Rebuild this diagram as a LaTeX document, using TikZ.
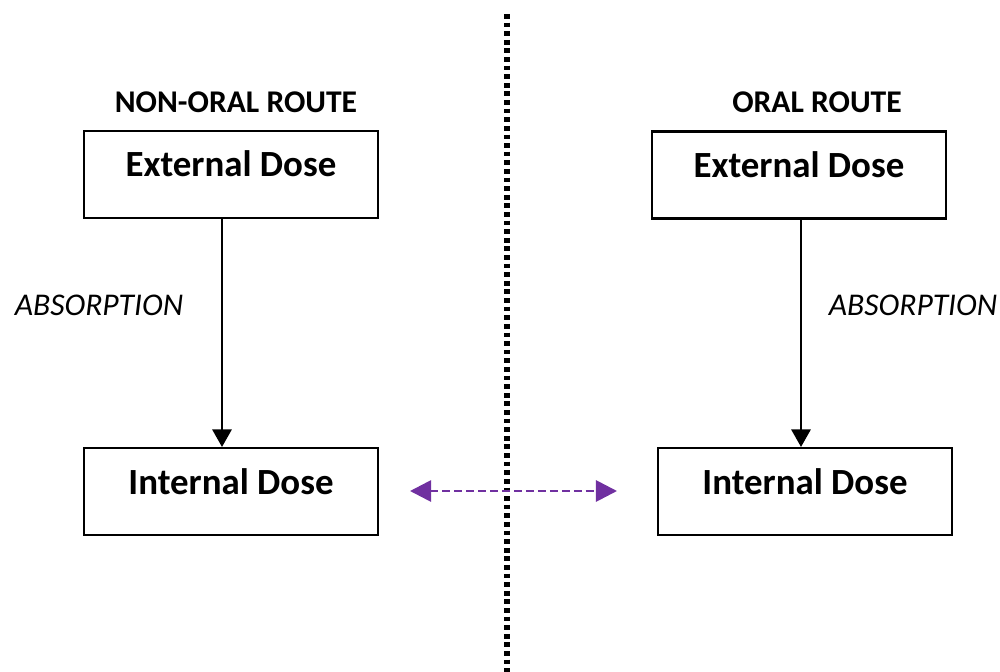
\documentclass[tikz,border=0pt]{standalone}
\usepackage{fontspec}
\setmainfont{Carlito}
\usetikzlibrary{arrows.meta}
\definecolor{routepurple}{RGB}{112,48,160}
\tikzset{
	dosebox/.style={draw,line width=1.2pt,inner sep=0,minimum width=5.88cm,
		text height=0.92cm,text depth=0.82cm,font=\fontsize{21}{25}\selectfont\bfseries},
	routetitle/.style={font=\fontsize{18}{22}\selectfont\bfseries},
	uptake/.style={font=\fontsize{18}{22}\selectfont\itshape},
	flow/.style={line width=1.2pt,-{Triangle[width=11pt,length=10pt]}},
}

\begin{document}
\begin{tikzpicture}[x=0.02cm,y=-0.02cm]
	\useasboundingbox (0,0) rectangle (1000,672);
	\node[routetitle] (1) at (236,102) {NON-ORAL ROUTE};
	\node[routetitle] (2) at (817,102) {ORAL ROUTE};
	\node[dosebox] (3) at (231,174.5) {External Dose};
	\node[dosebox] (4) at (231,491.5) {Internal Dose};
	\node[dosebox] (5) at (799,175) {External Dose};
	\node[dosebox] (6) at (805,491.5) {Internal Dose};
	\node[uptake] (7) at (99,305) {ABSORPTION};
	\node[uptake] (8) at (913,305) {ABSORPTION};
	\draw[flow] (3.south -| 222,0) -- (4.north -| 222,0);
	\draw[flow] (5.south -| 801,0) -- (6.north -| 801,0);
	\coordinate (9) at (507,14);
	\coordinate (10) at (507,672);
	\draw[line width=2.9pt,dash pattern=on 2.7pt off 2.2pt] (9) -- (10);
	\coordinate (11) at (410,491);
	\coordinate (12) at (617,491);
	\draw[routepurple,line width=1.6pt,dash pattern=on 4.5pt off 2.3pt,
		{Triangle[width=12pt,length=12pt]}-{Triangle[width=12pt,length=12pt]}] (11) -- (12);
\end{tikzpicture}
\end{document}
